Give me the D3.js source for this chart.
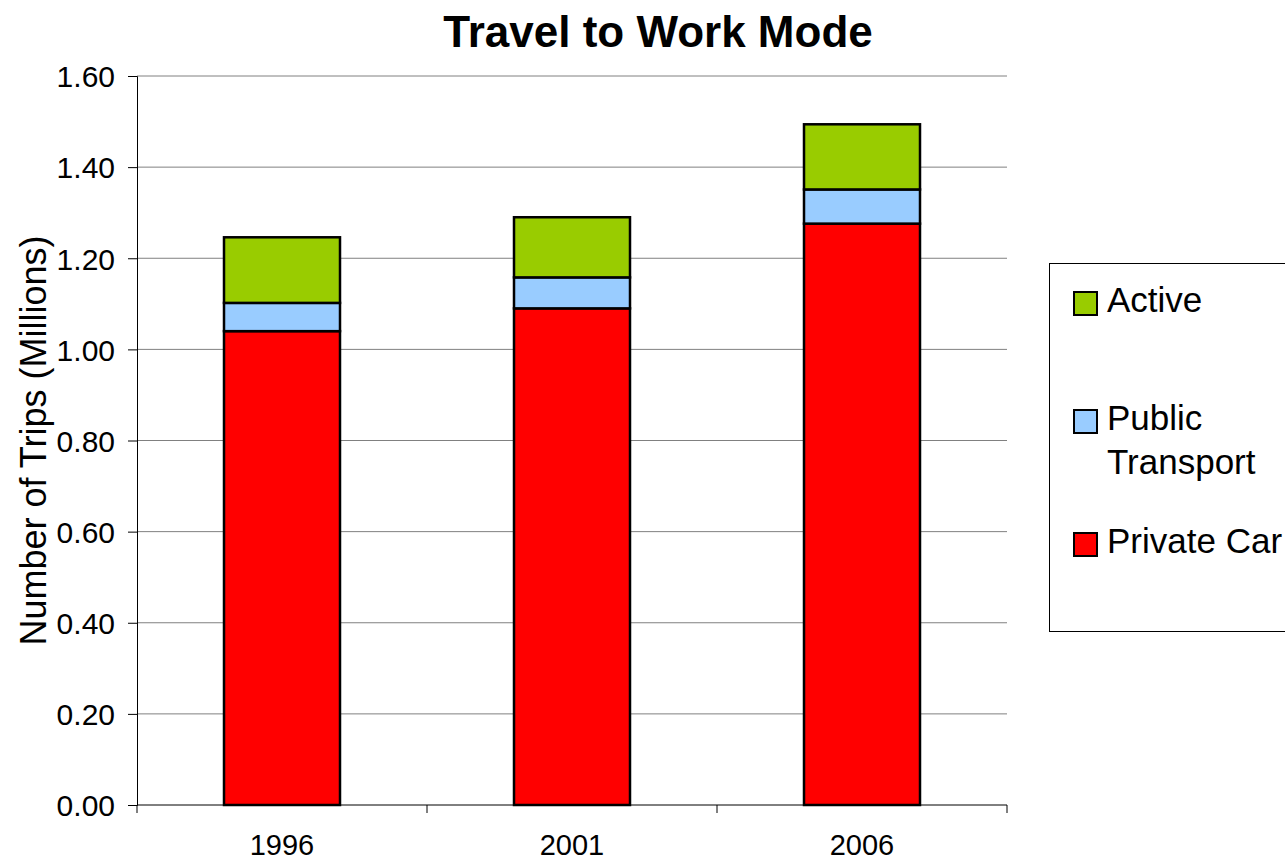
<!DOCTYPE html>
<html>
<head>
<meta charset="utf-8">
<script src="https://d3js.org/d3.v7.min.js"></script>
<style>
  body { margin: 0; background: #fff; font-family: "Liberation Sans", Arial, sans-serif; }
  svg text { font-family: "Liberation Sans", Arial, sans-serif; fill: #000; }
</style>
</head>
<body>
<div id="area"></div>
<script>
// data
var years = ["1996", "2001", "2006"];
var privateCar = [1.040, 1.090, 1.276];
var publicTransport = [0.062, 0.068, 0.075];
var active = [0.144, 0.132, 0.143];
var seriesNames = ["Private Car", "Public Transport", "Active"];
var seriesColors = ["#ff0000", "#99ccff", "#99cc00"];
var yTicks = [0, 0.2, 0.4, 0.6, 0.8, 1.0, 1.2, 1.4, 1.6];

var W = 1285, H = 862;
var margin = {top: 76, right: 278, bottom: 57, left: 137};
var width = W - margin.left - margin.right,
    height = H - margin.top - margin.bottom;

var svg = d3.select("#area").append("svg")
    .attr("width", W).attr("height", H);

var g = svg.append("g")
    .attr("transform", "translate(" + margin.left + "," + margin.top + ")");

var rows = years.map(function(y, i) {
  return {year: y, "Private Car": privateCar[i], "Public Transport": publicTransport[i], "Active": active[i]};
});

var x = d3.scaleBand().domain(years).range([0, width])
    .paddingInner(0.6).paddingOuter(0.3);
var y = d3.scaleLinear().domain([0, 1.6]).range([height, 0]);

// gridlines
g.append("g").selectAll("line")
  .data(yTicks.slice(1))
  .enter().append("line")
    .attr("x1", 0).attr("x2", width)
    .attr("y1", function(d) { return y(d); })
    .attr("y2", function(d) { return y(d); })
    .attr("stroke", "#808080").attr("stroke-width", 1);

// y axis
var yAxis = g.append("g")
  .call(d3.axisLeft(y).tickValues(yTicks).tickSize(9).tickPadding(13)
        .tickFormat(d3.format(".2f")));
yAxis.select(".domain").attr("stroke", "#000");
yAxis.selectAll(".tick line").attr("stroke", "#000");
yAxis.selectAll("text").style("font-size", "30px").attr("dy", "0.36em");

// stacked bars
var stack = d3.stack().keys(seriesNames)(rows);
g.append("g").selectAll("g")
  .data(stack)
  .enter().append("g")
    .attr("fill", function(d, i) { return seriesColors[i]; })
  .selectAll("rect")
  .data(function(d) { return d; })
  .enter().append("rect")
    .attr("x", function(d) { return x(d.data.year); })
    .attr("y", function(d) { return y(d[1]); })
    .attr("width", x.bandwidth())
    .attr("height", function(d) { return y(d[0]) - y(d[1]); })
    .attr("stroke", "#000").attr("stroke-width", 2.5);

// x axis
var xAxis = g.append("g").attr("transform", "translate(0," + height + ")");
xAxis.append("line").attr("x1", 0).attr("x2", width).attr("stroke", "#000");
var bounds = d3.range(years.length + 1).map(function(i) { return i * x.step(); });
xAxis.selectAll(".tk").data(bounds).enter().append("line")
    .attr("x1", function(d) { return d; }).attr("x2", function(d) { return d; })
    .attr("y1", 0).attr("y2", 8).attr("stroke", "#000");
xAxis.selectAll(".lbl").data(years).enter().append("text")
    .attr("x", function(d) { return x(d) + x.bandwidth() / 2; })
    .attr("y", 50)
    .attr("text-anchor", "middle")
    .style("font-size", "29px")
    .text(function(d) { return d; });

// title
svg.append("text")
    .attr("x", 658).attr("y", 47)
    .attr("text-anchor", "middle")
    .style("font-size", "44px").style("font-weight", "bold")
    .text("Travel to Work Mode");

// y label
svg.append("text")
    .attr("transform", "translate(46," + (margin.top + height / 2) + ") rotate(-90)")
    .attr("text-anchor", "middle")
    .style("font-size", "36px")
    .text("Number of Trips (Millions)");

// legend
var legend = svg.append("g").attr("transform", "translate(1049,263)");
legend.append("rect")
    .attr("x", 0.5).attr("y", 0.5).attr("width", 270).attr("height", 368)
    .attr("fill", "#fff").attr("stroke", "#000").attr("stroke-width", 1);
var legendItems = [
  {name: "Active", color: seriesColors[2], top: 29, lines: ["Active"]},
  {name: "Public Transport", color: seriesColors[1], top: 147, lines: ["Public", "Transport"]},
  {name: "Private Car", color: seriesColors[0], top: 270, lines: ["Private Car"]}
];
var li = legend.selectAll(".item").data(legendItems).enter().append("g")
    .attr("transform", function(d) { return "translate(25," + d.top + ")"; });
li.append("rect")
    .attr("width", 23).attr("height", 23)
    .attr("fill", function(d) { return d.color; })
    .attr("stroke", "#000").attr("stroke-width", 2);
li.each(function(d) {
  var t = d3.select(this).append("text")
      .attr("x", 33).attr("y", 20)
      .style("font-size", "35px");
  d.lines.forEach(function(l, i) {
    t.append("tspan").attr("x", 33).attr("dy", i === 0 ? 0 : 44).text(l);
  });
});
</script>
</body>
</html>
